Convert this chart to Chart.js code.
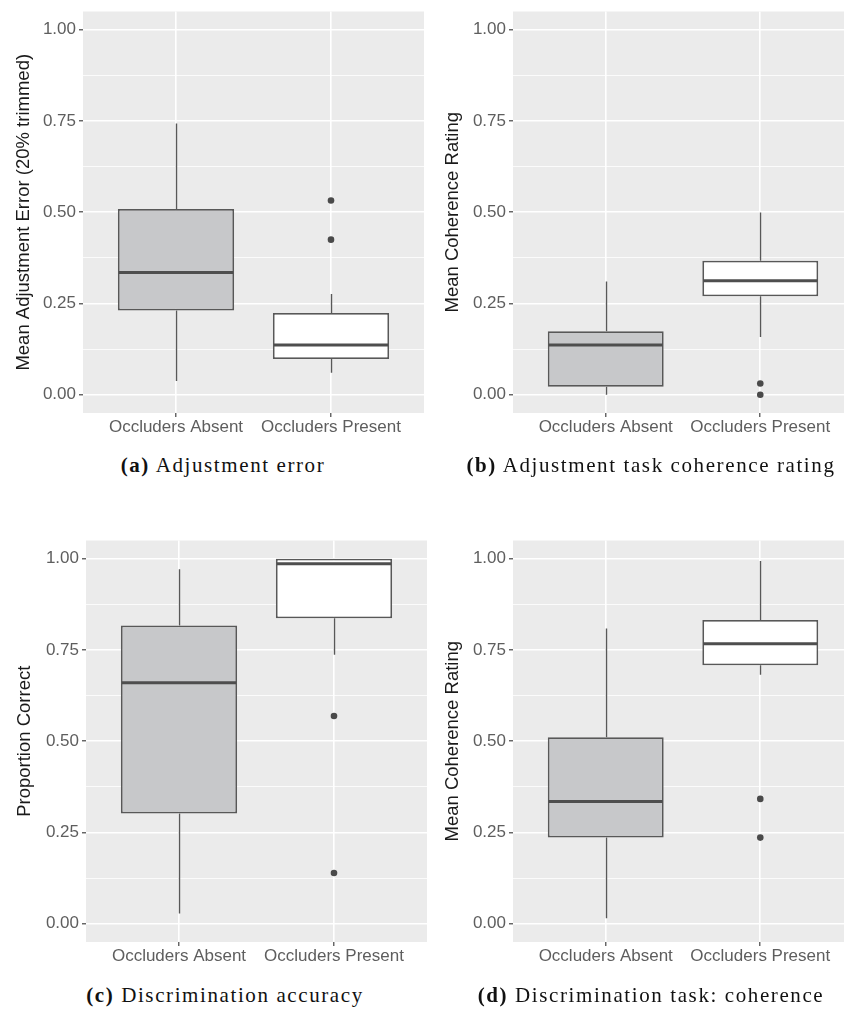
<!DOCTYPE html>
<html>
<head>
<meta charset="utf-8">
<script src="https://cdn.jsdelivr.net/npm/chart.js@4.4.1/dist/chart.umd.min.js"></script>
<style>
  html, body { margin: 0; padding: 0; background: #fff; width: 844px; height: 1009px; overflow: hidden; }
  canvas { position: absolute; }
  .cap {
    position: absolute;
    font-family: "Liberation Serif", "Times New Roman", serif;
    font-size: 21px;
    letter-spacing: 1.6px;
    white-space: nowrap;
    color: #111;
    transform: translate(-50%, -50%);
  }
</style>
</head>
<body>
<canvas id="panelA" width="428" height="450" style="left:0;top:0"></canvas>
<canvas id="panelB" width="437" height="450" style="left:420px;top:0"></canvas>
<canvas id="panelC" width="431" height="450" style="left:0;top:529px"></canvas>
<canvas id="panelD" width="437" height="450" style="left:420px;top:529px"></canvas>

<div class="cap" style="left:223px;top:465px"><b>(a)</b> Adjustment error</div>
<div class="cap" style="left:651px;top:465px"><b>(b)</b> Adjustment task coherence rating</div>
<div class="cap" style="left:225px;top:995px"><b>(c)</b> Discrimination accuracy</div>
<div class="cap" style="left:651px;top:995px"><b>(d)</b> Discrimination task: coherence</div>

<script>
const categories = ['Occluders Absent', 'Occluders Present'];
const yTicks = [0, 0.25, 0.5, 0.75, 1];
const yMinorTicks = [0.125, 0.375, 0.625, 0.875];

// five-number summaries: [lower whisker, Q1, median, Q3, upper whisker]
const adjErrorAbsent = [0.038, 0.231, 0.335, 0.509, 0.743];
const adjErrorPresent = [0.060, 0.098, 0.136, 0.224, 0.276];
const adjErrorOutliers = [[], [0.532, 0.425]];

const adjCoherenceAbsent = [0.0, 0.022, 0.136, 0.174, 0.310];
const adjCoherencePresent = [0.158, 0.270, 0.312, 0.367, 0.499];
const adjCoherenceOutliers = [[], [0.031, 0.0]];

const discAccuracyAbsent = [0.028, 0.302, 0.660, 0.817, 0.971];
const discAccuracyPresent = [0.737, 0.837, 0.986, 1.0, 1.0];
const discAccuracyOutliers = [[], [0.569, 0.139]];

const discCoherenceAbsent = [0.015, 0.236, 0.335, 0.511, 0.809];
const discCoherencePresent = [0.682, 0.708, 0.767, 0.832, 0.994];
const discCoherenceOutliers = [[], [0.342, 0.236]];

const PANEL_BG = '#EBEBEB';
const BOX_FILLS = ['#C7C8CA', '#FFFFFF'];
const LINE_COLOR = '#585858';
const TICK_TEXT = '#5E5E5E';

// grey panel, whiskers and medians drawn with the chart's own scales
const boxParts = {
  id: 'boxParts',
  beforeDraw(chart) {
    const { ctx, chartArea: a } = chart;
    ctx.save();
    ctx.fillStyle = PANEL_BG;
    ctx.fillRect(a.left, a.top, a.right - a.left, a.bottom - a.top);
    ctx.restore();
  },
  beforeDatasetsDraw(chart) {
    const { ctx } = chart;
    const y = chart.scales.y;
    const stats = chart.data.datasets[0].stats;
    const bars = chart.getDatasetMeta(0).data;
    ctx.save();
    ctx.strokeStyle = LINE_COLOR;
    ctx.lineWidth = 1.4;
    stats.forEach((s, i) => {
      const x = Math.round(bars[i].x) + 0.5;
      ctx.beginPath();
      ctx.moveTo(x, y.getPixelForValue(s[4]));
      ctx.lineTo(x, y.getPixelForValue(s[3]));
      ctx.moveTo(x, y.getPixelForValue(s[1]));
      ctx.lineTo(x, y.getPixelForValue(s[0]));
      ctx.stroke();
    });
    ctx.restore();
  },
  afterDatasetsDraw(chart) {
    const { ctx } = chart;
    const y = chart.scales.y;
    const stats = chart.data.datasets[0].stats;
    const bars = chart.getDatasetMeta(0).data;
    ctx.save();
    ctx.strokeStyle = '#4E4E4E';
    ctx.lineWidth = 3;
    stats.forEach((s, i) => {
      const b = bars[i];
      const yy = y.getPixelForValue(s[2]);
      ctx.beginPath();
      ctx.moveTo(b.x - b.width / 2 + 1, yy);
      ctx.lineTo(b.x + b.width / 2 - 1, yy);
      ctx.stroke();
    });
    ctx.restore();
  }
};

function makePanel(id, yTitle, absent, present, outliers, yWidth, titlePad) {
  const stats = [absent, present];
  const outlierPoints = [];
  outliers.forEach((list, i) => list.forEach(v => outlierPoints.push({ x: i + 1, y: v })));

  new Chart(document.getElementById(id), {
    type: 'bar',
    data: {
      datasets: [
        {
          stats: stats,
          data: stats.map((s, i) => ({ x: i + 1, y: [s[1], s[3]] })),
          backgroundColor: BOX_FILLS,
          borderColor: LINE_COLOR,
          borderWidth: 1.8,
          borderSkipped: false,
          categoryPercentage: 1,
          barPercentage: 0.75,
        },
        {
          type: 'scatter',
          data: outlierPoints,
          pointRadius: 3.3,
          pointBackgroundColor: '#4A4A4A',
          pointBorderWidth: 0,
        },
      ],
    },
    options: {
      responsive: false,
      animation: false,
      devicePixelRatio: 1,
      layout: { padding: { top: 9, left: 0, right: 0, bottom: 0 } },
      plugins: { legend: { display: false }, tooltip: { enabled: false } },
      scales: {
        x: {
          type: 'linear',
          min: 0.4,
          max: 2.6,
          offset: false,
          afterBuildTicks: (s) => { s.ticks = categories.map((c, i) => ({ value: i + 1 })); },
          afterFit: (s) => { s.height = 37; },
          border: { display: false },
          grid: { offset: false, color: '#FFFFFF', lineWidth: 1.6, tickColor: '#333333', tickLength: 4, tickWidth: 1.1 },
          ticks: {
            autoSkip: false,
            maxRotation: 0,
            padding: 2,
            color: TICK_TEXT,
            font: { family: '"Liberation Sans", Arial, sans-serif', size: 17, lineHeight: 1 },
            callback: (v) => categories[v - 1] || '',
          },
        },
        y: {
          type: 'linear',
          min: -0.05,
          max: 1.05,
          afterBuildTicks: (s) => {
            s.ticks = yTicks.concat(yMinorTicks).sort((a, b) => a - b).map(v => ({ value: v }));
          },
          afterFit: (s) => { s.width = yWidth; },
          border: { display: false },
          grid: {
            color: '#FFFFFF',
            lineWidth: (c) => (c.tick && yTicks.includes(c.tick.value) ? 1.6 : 0.8),
            tickColor: (c) => (c.tick && yTicks.includes(c.tick.value) ? '#333333' : 'rgba(0,0,0,0)'),
            tickLength: 4,
            tickWidth: 1.1,
          },
          ticks: {
            autoSkip: false,
            padding: 3,
            color: TICK_TEXT,
            font: { family: '"Liberation Sans", Arial, sans-serif', size: 17, lineHeight: 1 },
            callback: (v) => (yTicks.includes(v) ? v.toFixed(2) : ''),
          },
          title: {
            display: true,
            text: yTitle,
            color: '#1A1A1A',
            font: { family: '"Liberation Sans", Arial, sans-serif', size: 18.5 },
            padding: { top: titlePad, bottom: 0 },
          },
        },
      },
    },
    plugins: [boxParts],
  });
}

makePanel('panelA', 'Mean Adjustment Error (20% trimmed)', adjErrorAbsent, adjErrorPresent, adjErrorOutliers, 83, 13);
makePanel('panelB', 'Mean Coherence Rating', adjCoherenceAbsent, adjCoherencePresent, adjCoherenceOutliers, 93, 22);
makePanel('panelC', 'Proportion Correct', discAccuracyAbsent, discAccuracyPresent, discAccuracyOutliers, 86, 14);
makePanel('panelD', 'Mean Coherence Rating', discCoherenceAbsent, discCoherencePresent, discCoherenceOutliers, 93, 22);
</script>
</body>
</html>
